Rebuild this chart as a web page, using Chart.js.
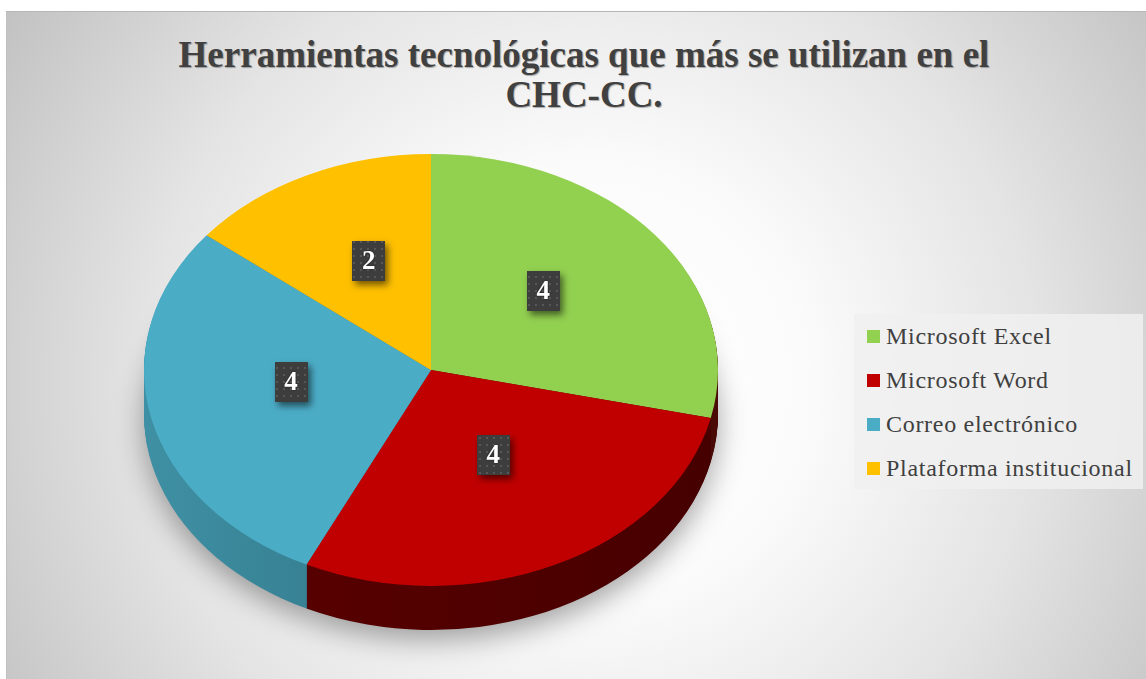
<!DOCTYPE html>
<html>
<head>
<meta charset="utf-8">
<script src="https://cdn.jsdelivr.net/npm/chart.js@4"></script>
<style>
    body { margin: 0; background: #ffffff; width: 1146px; height: 679px; overflow: hidden; position: relative; }
    #box {
        position: absolute; left: 6px; top: 11px; right: 0; bottom: 0;
        border-top: 1px solid #b5b5b5; border-left: 1px solid #c0c0c0;
        background: radial-gradient(circle 720px at 584px 370px, #ffffff 0%, #fbfbfb 30%, #e4e4e4 62%, #bebebe 100%);
    }
    #title {
        position: absolute; left: 14px; top: 35px; width: 1140px;
        text-align: center; font-family: "Liberation Serif", serif; font-weight: bold;
        font-size: 37px; line-height: 40px; color: #404040;
        text-shadow: 1px 1px 1px rgba(0,0,0,0.3);
    }
    #legend {
        position: absolute; left: 854px; top: 314px; width: 289px; height: 175px;
        background: rgba(240,240,240,0.85); padding-left: 13px; box-sizing: border-box;
        font-family: "Liberation Serif", serif; font-size: 24px; line-height: 44px; color: #404040;
        letter-spacing: 0.7px; white-space: nowrap;
    }
    #legend .sw { display: inline-block; width: 13px; height: 13px; margin-bottom: 1px; margin-right: 6px; }
    canvas { position: absolute; left: 0; top: 0; }
</style>
</head>
<body>
<div id="box"></div>
<div id="title">Herramientas tecnológicas que más se utilizan en el<br>CHC-CC.</div>
<div id="legend"></div>
<canvas id="pie-chart" width="1146" height="679"></canvas>
<script>
// Data
const sliceLabels = ['Microsoft Excel', 'Microsoft Word', 'Correo electrónico', 'Plataforma institucional'];
const sliceValues = [4, 4, 4, 2];

// Colours of the top face and of the side (dark) walls
const sliceColors = ['#92D050', '#C00000', '#4BACC6', '#FFC000'];
const sideColors = [['#4f1a10', '#4a0a05'], ['#5e0000', '#460000'], ['#3f90a4', '#255d6b'], ['#a87f00', '#a87f00']];

// Fake 3D settings: vertical squash, where the top face centre lands, wall height
const TILT = 216 / 287;
const CENTER_Y = 370;
const DEPTH = 44;
const LABEL_SHIFT = -12;

// Build the legend from the same arrays
let legendHtml = '';
sliceLabels.forEach((lab, i) => {
    legendHtml += '<div><span class="sw" style="background:' + sliceColors[i] + '"></span>' + lab + '</div>';
});
document.getElementById('legend').innerHTML = legendHtml;

// Squash the pie around its centre so it looks tilted
function squash(ctx, chart) {
    const cy = (chart.chartArea.top + chart.chartArea.bottom) / 2;
    ctx.translate(0, CENTER_Y);
    ctx.scale(1, TILT);
    ctx.translate(0, -cy);
}

function sideFill(ctx, i, arc) {
    const g = ctx.createLinearGradient(arc.x - arc.outerRadius, 0, arc.x + arc.outerRadius, 0);
    g.addColorStop(0, sideColors[i][0]);
    g.addColorStop(1, sideColors[i][1]);
    return g;
}

// Dotted fill used by the value boxes
function dotPattern(ctx) {
    const c = document.createElement('canvas');
    c.width = 7; c.height = 7;
    const p = c.getContext('2d');
    p.fillStyle = '#3d3d3d';
    p.fillRect(0, 0, 7, 7);
    p.fillStyle = '#575757';
    p.fillRect(3, 3, 2, 2);
    return ctx.createPattern(c, 'repeat');
}

const pie3d = {
    id: 'pie3d',
    beforeDatasetsDraw(chart) {
        const ctx = chart.ctx;
        const meta = chart.getDatasetMeta(0);
        // Walls: stack copies of the slices downwards, darkest at the bottom
        for (let d = DEPTH; d >= 1; d--) {
            ctx.save();
            ctx.translate(0, d);
            squash(ctx, chart);
            if (d === DEPTH) {
                ctx.shadowColor = 'rgba(0,0,0,0.35)';
                ctx.shadowBlur = 28;
                ctx.shadowOffsetY = 10;
            }
            meta.data.forEach((el, i) => {
                const a = el.getProps(['x', 'y', 'startAngle', 'endAngle', 'outerRadius'], true);
                ctx.beginPath();
                ctx.moveTo(a.x, a.y);
                ctx.arc(a.x, a.y, a.outerRadius, a.startAngle, a.endAngle);
                ctx.closePath();
                ctx.fillStyle = sideFill(ctx, i, a);
                ctx.fill();
            });
            ctx.restore();
        }
        // Top face is drawn by Chart.js itself, squashed
        ctx.save();
        squash(ctx, chart);
    },
    afterDatasetsDraw(chart) {
        const ctx = chart.ctx;
        ctx.restore();

        // Value boxes
        const meta = chart.getDatasetMeta(0);
        const cy = (chart.chartArea.top + chart.chartArea.bottom) / 2;
        const pattern = dotPattern(ctx);
        meta.data.forEach((el, i) => {
            const a = el.getProps(['x', 'y', 'startAngle', 'endAngle', 'outerRadius'], true);
            const mid = (a.startAngle + a.endAngle) / 2;
            const r = a.outerRadius * 0.5;
            const px = a.x + Math.cos(mid) * r;
            const py = CENTER_Y + (a.y + Math.sin(mid) * r - cy) * TILT + LABEL_SHIFT;

            ctx.save();
            ctx.shadowColor = 'rgba(0,0,0,0.55)';
            ctx.shadowBlur = 7;
            ctx.shadowOffsetX = 3;
            ctx.shadowOffsetY = 4;
            ctx.fillStyle = pattern;
            ctx.fillRect(Math.round(px - 16.5), Math.round(py - 20), 33, 40);
            ctx.restore();

            ctx.save();
            ctx.fillStyle = '#ffffff';
            ctx.font = 'bold 27px "Liberation Serif"';
            ctx.textAlign = 'center';
            ctx.textBaseline = 'middle';
            ctx.shadowColor = 'rgba(0,0,0,0.6)';
            ctx.shadowBlur = 2;
            ctx.fillText(String(sliceValues[i]), px, py + 1);
            ctx.restore();
        });
    }
};

const ctx = document.getElementById('pie-chart');

new Chart(ctx, {
    type: 'pie',
    data: {
        labels: sliceLabels,
        datasets: [{
            data: sliceValues,
            backgroundColor: sliceColors,
            borderWidth: 0
        }]
    },
    options: {
        responsive: false,
        animation: false,
        events: [],
        // Chart area is a 574px square so the pie radius is 287
        layout: {
            padding: { left: 144, right: 428, top: 52, bottom: 53 }
        },
        plugins: {
            legend: { display: false },
            tooltip: { enabled: false }
        }
    },
    plugins: [pie3d]
});
</script>
</body>
</html>
